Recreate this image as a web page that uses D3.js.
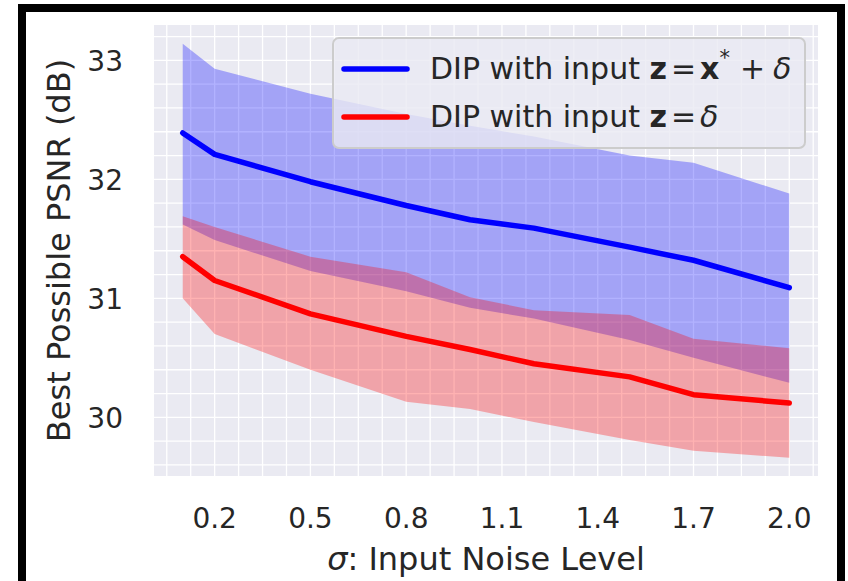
<!DOCTYPE html>
<html>
<head>
<meta charset="utf-8">
<script src="https://cdn.jsdelivr.net/npm/d3@7"></script>
<style>
  body { margin: 0; background: #fff; }
  svg { display: block; font-family: "DejaVu Sans", sans-serif; }
</style>
</head>
<body>
<svg id="chart"></svg>
<script>
// noise levels on the x axis
var sigma = [0.1, 0.2, 0.5, 0.8, 1.0, 1.2, 1.5, 1.7, 2.0];

// DIP with input z = x* + delta
var blueMean = [32.39, 32.21, 31.98, 31.78, 31.66, 31.59, 31.43, 31.32, 31.09];
var blueHi = [33.14, 32.93, 32.72, 32.55, 32.45, 32.36, 32.20, 32.14, 31.88];
var blueLo = [31.62, 31.49, 31.23, 31.06, 30.92, 30.83, 30.65, 30.50, 30.29];

// DIP with input z = delta
var redMean = [31.35, 31.15, 30.87, 30.68, 30.57, 30.45, 30.34, 30.19, 30.12];
var redHi = [31.69, 31.60, 31.35, 31.22, 31.01, 30.90, 30.86, 30.66, 30.58];
var redLo = [31.00, 30.70, 30.40, 30.13, 30.07, 29.96, 29.81, 29.72, 29.66];

var xTicks = [0.2, 0.5, 0.8, 1.1, 1.4, 1.7, 2.0];
var yTicks = [30, 31, 32, 33];

var width = 848;
var height = 581;
var plot = { left: 154, right: 818, top: 25, bottom: 476 };

var svg = d3.select("#chart")
    .attr("width", width)
    .attr("height", height);

// outer black frame
svg.append("rect")
    .attr("x", 22).attr("y", 8)
    .attr("width", 819).attr("height", 577)
    .attr("fill", "#fff")
    .attr("stroke", "#000")
    .attr("stroke-width", 8);

var x = d3.scaleLinear().domain([0.01, 2.09]).range([plot.left, plot.right]);
var y = d3.scaleLinear().domain([29.507, 33.297]).range([plot.bottom, plot.top]);

// axes background
svg.append("rect")
    .attr("x", plot.left).attr("y", plot.top)
    .attr("width", plot.right - plot.left)
    .attr("height", plot.bottom - plot.top)
    .attr("fill", "#eaeaf2");

// grid: major + minor lines (x every 0.075, y every 0.2)
var xGrid = d3.range(-2, 30).map(function (k) { return 0.2 + k * 0.075; })
    .filter(function (v) { return v > x.domain()[0] && v < x.domain()[1]; });
var yGrid = d3.range(0, 25).map(function (k) { return 29.4 + k * 0.2; })
    .filter(function (v) { return v > y.domain()[0] && v < y.domain()[1]; });

var grid = svg.append("g").attr("stroke", "#fff").attr("stroke-width", 1.3);
grid.selectAll("line.vx")
    .data(xGrid)
    .enter().append("line")
    .attr("class", "vx")
    .attr("x1", function (d) { return x(d); })
    .attr("x2", function (d) { return x(d); })
    .attr("y1", plot.top).attr("y2", plot.bottom);
grid.selectAll("line.hy")
    .data(yGrid)
    .enter().append("line")
    .attr("class", "hy")
    .attr("y1", function (d) { return y(d); })
    .attr("y2", function (d) { return y(d); })
    .attr("x1", plot.left).attr("x2", plot.right);

var area = d3.area()
    .x(function (d) { return x(d.s); })
    .y0(function (d) { return y(d.lo); })
    .y1(function (d) { return y(d.hi); });

var line = d3.line()
    .x(function (d) { return x(d.s); })
    .y(function (d) { return y(d.m); });

function rows(mean, lo, hi) {
    return sigma.map(function (s, i) { return { s: s, m: mean[i], lo: lo[i], hi: hi[i] }; });
}

var series = [
    { color: "#0000ff", data: rows(blueMean, blueLo, blueHi) },
    { color: "#ff0000", data: rows(redMean, redLo, redHi) }
];

series.forEach(function (sr) {
    svg.append("path")
        .attr("d", area(sr.data))
        .attr("fill", sr.color)
        .attr("fill-opacity", 0.3);
});
series.forEach(function (sr) {
    svg.append("path")
        .attr("d", line(sr.data))
        .attr("fill", "none")
        .attr("stroke", sr.color)
        .attr("stroke-width", 5.5)
        .attr("stroke-linecap", "round")
        .attr("stroke-linejoin", "round");
});

// tick labels
svg.append("g").selectAll("text")
    .data(xTicks)
    .enter().append("text")
    .attr("x", function (d) { return x(d); })
    .attr("y", 528)
    .attr("text-anchor", "middle")
    .attr("font-size", 28)
    .attr("fill", "#262626")
    .text(function (d) { return d3.format(".1f")(d); });

svg.append("g").selectAll("text")
    .data(yTicks)
    .enter().append("text")
    .attr("x", 123)
    .attr("y", function (d) { return y(d) + 10.5; })
    .attr("text-anchor", "end")
    .attr("font-size", 28)
    .attr("fill", "#262626")
    .text(function (d) { return d; });

// axis labels
var xl = svg.append("text")
    .attr("x", (plot.left + plot.right) / 2)
    .attr("y", 570)
    .attr("text-anchor", "middle")
    .attr("font-size", 32)
    .attr("fill", "#262626");
xl.append("tspan").attr("font-style", "italic").text("σ");
xl.append("tspan").text(": Input Noise Level");

svg.append("text")
    .attr("transform", "translate(70," + (plot.top + plot.bottom) / 2 + ") rotate(-90)")
    .attr("text-anchor", "middle")
    .attr("font-size", 32)
    .attr("fill", "#262626")
    .text("Best Possible PSNR (dB)");

// legend
var lg = svg.append("g");
lg.append("rect")
    .attr("x", 333).attr("y", 38)
    .attr("width", 472).attr("height", 110)
    .attr("rx", 6)
    .attr("fill", "#eaeaf2")
    .attr("fill-opacity", 0.8)
    .attr("stroke", "#cccccc")
    .attr("stroke-width", 2);

var legendRows = [
    { color: "#0000ff", y: 69 },
    { color: "#ff0000", y: 117 }
];
lg.selectAll("line")
    .data(legendRows)
    .enter().append("line")
    .attr("x1", 344).attr("x2", 407)
    .attr("y1", function (d) { return d.y; })
    .attr("y2", function (d) { return d.y; })
    .attr("stroke", function (d) { return d.color; })
    .attr("stroke-width", 5.5)
    .attr("stroke-linecap", "round");

var t1 = lg.append("text").attr("x", 430).attr("y", 79).attr("font-size", 30).attr("fill", "#262626");
t1.append("tspan").text("DIP with input ");
t1.append("tspan").attr("font-weight", "bold").text("z");
t1.append("tspan").attr("dx", 4).text("=");
t1.append("tspan").attr("dx", 4).attr("font-weight", "bold").text("x");
t1.append("tspan").attr("dy", -14).attr("font-size", 21).text("*");
t1.append("tspan").attr("dy", 14).attr("dx", 10).text("+");
t1.append("tspan").attr("dx", 8).attr("font-style", "italic").text("δ");

var t2 = lg.append("text").attr("x", 430).attr("y", 127).attr("font-size", 30).attr("fill", "#262626");
t2.append("tspan").text("DIP with input ");
t2.append("tspan").attr("font-weight", "bold").text("z");
t2.append("tspan").attr("dx", 4).text("=");
t2.append("tspan").attr("dx", 4).attr("font-style", "italic").text("δ");
</script>
</body>
</html>
